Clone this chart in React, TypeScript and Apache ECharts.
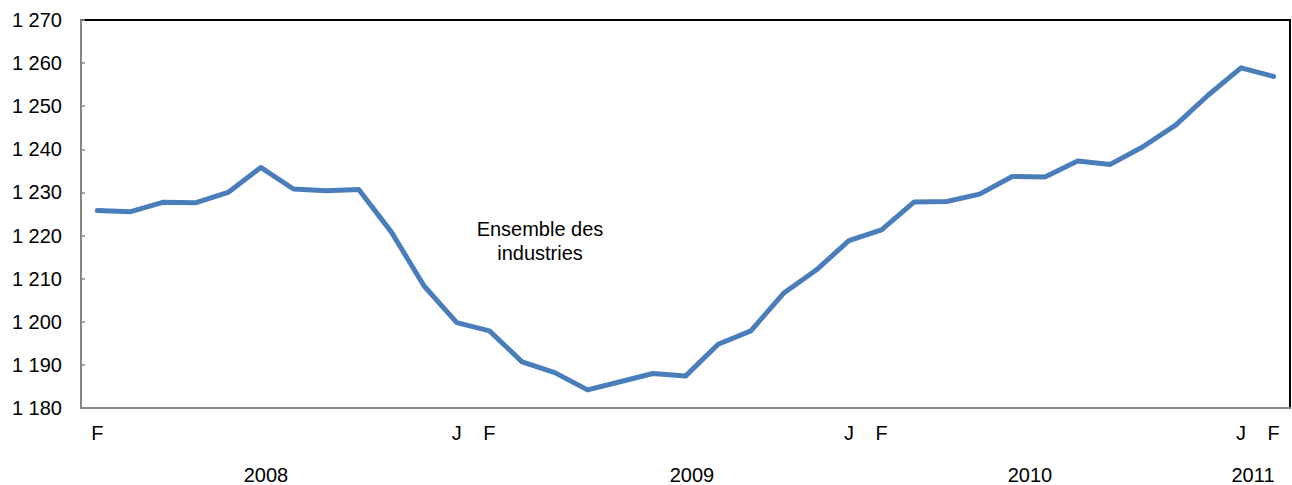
import React, { useEffect, useRef } from "react";
import * as echarts from "echarts";

const months = [
  "2008-02","2008-03","2008-04","2008-05","2008-06","2008-07","2008-08","2008-09","2008-10","2008-11","2008-12",
  "2009-01","2009-02","2009-03","2009-04","2009-05","2009-06","2009-07","2009-08","2009-09","2009-10","2009-11","2009-12",
  "2010-01","2010-02","2010-03","2010-04","2010-05","2010-06","2010-07","2010-08","2010-09","2010-10","2010-11","2010-12",
  "2011-01","2011-02",
];

const tickLabels: Record<string, string> = {
  "2008-02": "F",
  "2009-01": "J",
  "2009-02": "F",
  "2010-01": "J",
  "2010-02": "F",
  "2011-01": "J",
  "2011-02": "F",
};

const values = [
  1225.8, 1225.5, 1227.7, 1227.6, 1230.0, 1235.8, 1230.8, 1230.4, 1230.7, 1220.8, 1208.3,
  1199.8, 1197.9, 1190.7, 1188.2, 1184.2, 1186.1, 1188.0, 1187.4, 1194.8, 1197.9, 1206.6, 1212.0,
  1218.8, 1221.3, 1227.8, 1227.9, 1229.6, 1233.7, 1233.6, 1237.3, 1236.5, 1240.6, 1245.6, 1252.6,
  1258.9, 1256.9,
];

const years = ["2008", "2009", "2010", "2011"];
const yearX = [266, 692, 1030, 1253];

const seriesLabel = ["Ensemble des", "industries"];

const FONT = "'Liberation Sans', Arial, sans-serif";

function fmt(v: number) {
  const s = String(Math.round(v));
  return s.replace(/\B(?=(\d{3})+(?!\d))/g, " ");
}

export default function App() {
  const ref = useRef<HTMLDivElement>(null);
  useEffect(() => {
    const chart = echarts.init(ref.current!, undefined, { renderer: "svg" });
    chart.setOption({
      animation: false,
      grid: {
        left: 81,
        top: 20,
        right: 2,
        bottom: 77,
        show: true,
        borderColor: "#000",
        borderWidth: 2,
        backgroundColor: "transparent",
      },
      xAxis: {
        type: "category",
        data: months,
        boundaryGap: true,
        axisLine: { lineStyle: { color: "#868686", width: 2 } },
        axisTick: { inside: true, length: 5, lineStyle: { color: "#868686", width: 1.5 } },
        axisLabel: {
          interval: 0,
          formatter: (v: string) => tickLabels[v] || "",
          color: "#000",
          fontFamily: FONT,
          fontSize: 20,
          margin: 15,
        },
        splitLine: { show: false },
      },
      yAxis: {
        type: "value",
        min: 1180,
        max: 1270,
        interval: 10,
        axisLine: { show: true, lineStyle: { color: "#868686", width: 2 } },
        axisTick: { show: true, inside: true, length: 4, lineStyle: { color: "#868686", width: 1.5 } },
        axisLabel: {
          formatter: (v: number) => fmt(v),
          color: "#000",
          fontFamily: FONT,
          fontSize: 20,
          margin: 19,
        },
        splitLine: { show: false },
      },
      series: [
        {
          type: "line",
          data: values,
          symbol: "none",
          lineStyle: { color: "#4A7EBB", width: 5, cap: "round", join: "round" },
        },
      ],
      graphic: [
        ...years.map((y, i) => ({
          type: "text",
          x: yearX[i],
          y: 475,
          style: {
            text: y,
            fill: "#000",
            font: `20px ${FONT}`,
            textAlign: "center",
            textVerticalAlign: "middle",
          },
        })),
        {
          type: "text",
          x: 540,
          y: 241,
          style: {
            text: seriesLabel.join("\n"),
            fill: "#000",
            font: `20px ${FONT}`,
            lineHeight: 24,
            textAlign: "center",
            textVerticalAlign: "middle",
          },
        },
      ],
    });
    return () => chart.dispose();
  }, []);
  return (
    <div
      ref={ref}
      style={{ position: "fixed", left: 0, top: 0, width: 1292, height: 485, background: "#fff" }}
    />
  );
}
